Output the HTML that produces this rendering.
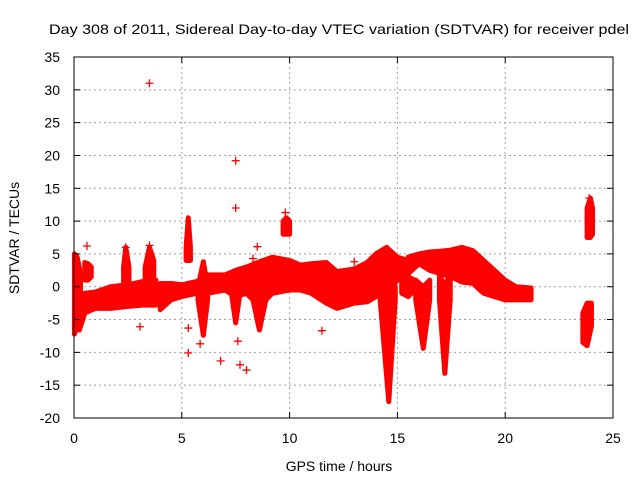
<!DOCTYPE html>
<html><head><meta charset="utf-8"><style>
body{margin:0;background:#fff}
svg{display:block;font-family:"Liberation Sans",Arial,sans-serif}
</style></head><body>
<svg id="chart" width="640" height="480" viewBox="0 0 640 480">
<rect width="640" height="480" fill="#fff"/>
<text x="339" y="34" font-size="14" text-anchor="middle" textLength="580" lengthAdjust="spacingAndGlyphs">Day 308 of 2011, Sidereal Day-to-day VTEC variation (SDTVAR) for receiver pdel</text>
<g id="grid"></g>
<g id="marks"></g>
<rect x="74" y="57" width="539" height="361" fill="none" stroke="#000" stroke-width="1"/>
<g id="axes"></g>
<text x="339" y="471" font-size="14" text-anchor="middle">GPS time / hours</text>
<text x="19" y="238" font-size="14" text-anchor="middle" transform="rotate(-90 19 238)">SDTVAR / TECUs</text>
</svg>
<script>
const xTicks=[0,5,10,15,20,25];
const yTicks=[-20,-15,-10,-5,0,5,10,15,20,25,30,35];
// bands: time, low, high
const mainA_t=[0.25,0.5,1,1.7,2.5,3.2,3.8];
const mainA_lo=[-6.6,-4,-3.3,-3.3,-3,-2.8,-2.8];
const mainA_hi=[-1.5,-1,-0.8,0,0.3,0.8,1];
const start_t=[0.02,0.15,0.3];
const start_lo=[-7.2,-6,-5];
const start_hi=[5,4.5,2];
const clA_t=[0.5,0.65,0.8];
const clA_lo=[1,1,1.5];
const clA_hi=[3.7,3.5,3];
const sp24_t=[2.3,2.4,2.55];
const sp24_lo=[0,0,0];
const sp24_hi=[3,6,3];
const sp35_t=[3.3,3.5,3.7];
const sp35_lo=[0.5,0,0.5];
const sp35_hi=[3,6,4];
const mainB_t=[4.0,4.5,5,5.7,6.2,7,7.5,8,8.6,9.2,10,10.5,11,11.7,12.2,13,13.6,14,14.5,15,15.5];
const mainB_lo=[-3.5,-2,-1.5,-1,-1,-0.5,-1.5,-1,-3,-1,-0.5,-0.5,-1,-2.5,-3.3,-2.5,-2.3,-1.5,-1,1,1.5];
const mainB_hi=[0.5,0.5,0.3,0.8,1.8,1.8,2.5,3,3.8,4.5,4,3.3,3.5,3.7,2.3,2.7,3.7,5,6,4.5,4];
const mainC_t=[15.5,16,16.5,17,17.5,18,18.5,19,19.5,20,20.5,21.2];
const mainC_lo=[2,3.5,2.5,2,1.5,0.7,0.5,-1,-1.5,-2,-2,-2];
const mainC_hi=[4.5,5,5.3,5.4,5.6,6,5.5,4,2.5,1,0,-0.2];
const blob_t=[15.2,15.5,15.8];
const blob_lo=[-1,-1.5,-0.5];
const blob_hi=[1,1.5,1];
const dip6_t=[5.75,6,6.2];
const dip6_lo=[-2,-7.4,-2];
const dip6_hi=[0,3.8,0];
const dip75_t=[7.3,7.5,7.7];
const dip75_lo=[-1,-5.5,-1];
const dip75_hi=[0,2,0];
const dip86_t=[8.3,8.6,8.9];
const dip86_lo=[-2,-6.6,-2];
const dip86_hi=[0,0,0];
const up53_t=[5.2,5.3,5.4];
const up53_lo=[4,4,4];
const up53_hi=[6,10.5,6];
const up98_t=[9.7,9.85,10];
const up98_lo=[8,8,8];
const up98_hi=[10,10.5,10];
const dip146_t=[14.2,14.6,14.9];
const dip146_lo=[-2,-17.5,-2];
const dip146_hi=[0,0,0];
const dip162_t=[15.85,16.2,16.5];
const dip162_lo=[-2,-9.4,-2];
const dip162_hi=[1,0,1];
const dip172_t=[16.95,17.2,17.45];
const dip172_lo=[-2,-13.2,-2];
const dip172_hi=[2,0,2];
const rLow_t=[23.6,23.8,24];
const rLow_lo=[-8.5,-9,-6];
const rLow_hi=[-4,-2.5,-2.5];
const rHigh_t=[23.8,23.95,24.05];
const rHigh_lo=[7.5,7.5,8];
const rHigh_hi=[12,13.5,12];
// isolated points
const ptT=[3.5,7.5,7.5,9.8,0.6,2.4,3.5,8.5,3.06,5.3,5.3,5.85,6.8,7.7,8.0,7.6,11.5,8.3,13.0,23.9];
const ptV=[31,19.2,12,11.3,6.2,6,6.3,6.1,-6.1,-6.3,-10.1,-8.7,-11.3,-11.9,-12.7,-8.3,-6.7,4.3,3.8,13.5];

const X=t=>74+t*539/25;
const Y=v=>57+(35-v)*361/55;
const NS="http://www.w3.org/2000/svg";
const grid=document.getElementById('grid'),axes=document.getElementById('axes'),marks=document.getElementById('marks');
function mk(tag,attrs,parent){const e=document.createElementNS(NS,tag);for(const k in attrs)e.setAttribute(k,attrs[k]);parent.appendChild(e);return e;}
xTicks.forEach(t=>{
  if(t>0&&t<25){const g=mk('line',{x1:X(t),x2:X(t),y1:57,y2:418,stroke:'#a0a0a0','stroke-dasharray':'2,3'},grid);
  
  }
  const k1=mk('line',{x1:X(t),x2:X(t),y1:418,y2:412,stroke:'#000'},axes);
  
  
  const k2=mk('line',{x1:X(t),x2:X(t),y1:57,y2:63,stroke:'#000'},axes);
  
  
  const l=mk('text',{x:X(t),y:443,'font-size':14,'text-anchor':'middle'},axes);l.textContent=t;
  
  
});
yTicks.forEach(v=>{
  if(v>-20&&v<35){const g=mk('line',{x1:74,x2:613,y1:Y(v),y2:Y(v),stroke:'#a0a0a0','stroke-dasharray':'2,3'},grid);
  
  }
  const k1=mk('line',{x1:74,x2:80,y1:Y(v),y2:Y(v),stroke:'#000'},axes);
  
  
  const k2=mk('line',{x1:607,x2:613,y1:Y(v),y2:Y(v),stroke:'#000'},axes);
  
  
  const l=mk('text',{x:60,y:Y(v)+5,'font-size':14,'text-anchor':'end'},axes);l.textContent=v;
  
  
});
const bands=[[mainA_t,mainA_lo,mainA_hi],[start_t,start_lo,start_hi],[clA_t,clA_lo,clA_hi],[sp24_t,sp24_lo,sp24_hi],[sp35_t,sp35_lo,sp35_hi],[mainB_t,mainB_lo,mainB_hi],[mainC_t,mainC_lo,mainC_hi],[blob_t,blob_lo,blob_hi],[dip6_t,dip6_lo,dip6_hi],[dip75_t,dip75_lo,dip75_hi],[dip86_t,dip86_lo,dip86_hi],[up53_t,up53_lo,up53_hi],[up98_t,up98_lo,up98_hi],[dip146_t,dip146_lo,dip146_hi],[dip162_t,dip162_lo,dip162_hi],[dip172_t,dip172_lo,dip172_hi],[rLow_t,rLow_lo,rLow_hi],[rHigh_t,rHigh_lo,rHigh_hi]];
bands.forEach(b=>{
  const [t,lo,hi]=b;const pts=[];
  for(let i=0;i<t.length;i++)pts.push(X(t[i])+','+Y(hi[i]));
  for(let i=t.length-1;i>=0;i--)pts.push(X(t[i])+','+Y(lo[i]));
  const p=mk('polygon',{points:pts.join(' '),fill:'#ff0000',stroke:'#ff0000','stroke-width':5,'stroke-linejoin':'round'},marks);
  
  
});
ptT.forEach((t,i)=>{
  const x=X(t),y=Y(ptV[i]);
  const p=mk('path',{d:`M${x-4},${y}H${x+4}M${x},${y-4}V${y+4}`,stroke:'#ff0000','stroke-width':1.3,fill:'none'},marks);
  
  
});
</script>
</body></html>
